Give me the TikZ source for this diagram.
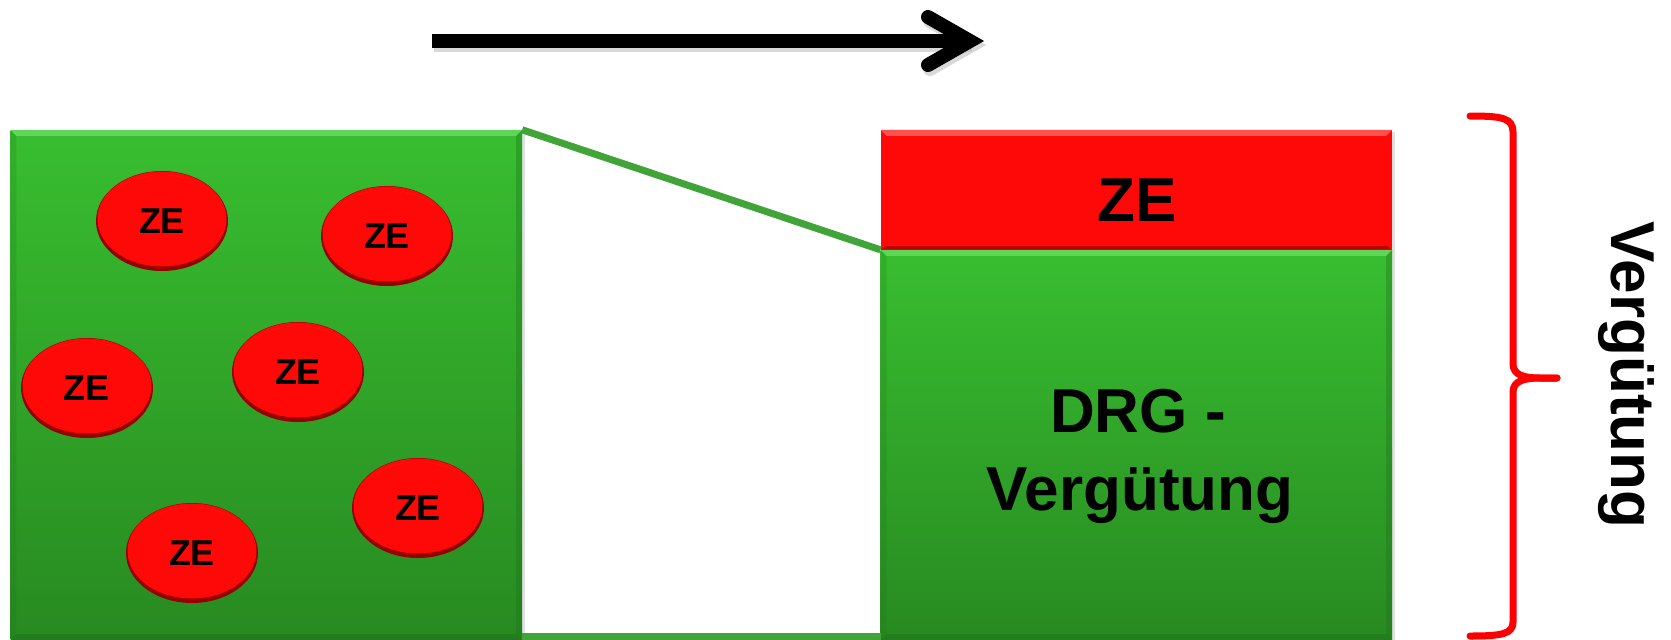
\documentclass[tikz,border=0pt]{standalone}
\usepackage{fontspec}
\setmainfont{Liberation Sans}
\usetikzlibrary{shapes.geometric}
\definecolor{gtop}{RGB}{56,190,48}
\definecolor{gbot}{RGB}{40,138,33}
\definecolor{glight}{RGB}{96,214,88}
\definecolor{gdark}{RGB}{30,112,26}
\definecolor{zered}{RGB}{255,8,8}
\definecolor{zelight}{RGB}{255,80,80}
\definecolor{zedark}{RGB}{190,0,0}
\definecolor{blobrim}{RGB}{150,0,0}
\definecolor{linegreen}{RGB}{64,164,56}
\definecolor{bracered}{RGB}{255,0,0}
\tikzset{
  box/.style={rectangle, inner sep=0pt, draw=none},
  greenbox/.style={box, top color=gtop, bottom color=gbot},
  redbar/.style={box, fill=zered},
  blob/.style={ellipse, minimum width=132pt, minimum height=100pt, inner sep=0pt,
    fill=blobrim, font=\bfseries\fontsize{36}{40}\selectfont,
    path picture={
      \fill[zered] ([yshift=2pt]path picture bounding box.center) ellipse [x radius=64.5pt, y radius=47.5pt];
      \fill[white, opacity=0.18] ([yshift=8pt]path picture bounding box.center) ellipse [x radius=58pt, y radius=38pt];
      \fill[zered] ([yshift=5pt]path picture bounding box.center) ellipse [x radius=60pt, y radius=41pt];
    }},
  bigtext/.style={font=\bfseries\fontsize{62}{78}\selectfont, inner sep=0pt},
  connline/.style={linegreen, line width=7pt},
  bracestyle/.style={bracered, line width=7pt, line cap=round, line join=round},
  arrowline/.style={black, line width=14pt},
}
\begin{document}
\begin{tikzpicture}[x=1pt, y=-1pt]
\useasboundingbox (0,0) rectangle (1671,640);

% arrow with soft shadow
\coordinate (a0) at (432,41);
\coordinate (av) at (970,41);
\coordinate (h1) at (928,17);
\coordinate (h2) at (928,65);
\begin{scope}[transform canvas={shift={(2pt,-4pt)}}]
  \draw[arrowline, black!25, opacity=0.6] (a0) -- (av);
  \draw[arrowline, black!25, opacity=0.6, line cap=round, miter limit=10] (h1) -- (av) -- (h2);
\end{scope}
\draw[arrowline] (a0) -- (av);
\draw[arrowline, line cap=round, miter limit=10] (h1) -- (av) -- (h2);

% left box
\fill[black!12] (13,132) rectangle (525,640);
\node[greenbox, minimum width=511.5pt, minimum height=510pt] (L) at (266.25,385) {};
\fill[glight] (L.north west) -- (L.north east) -- ([xshift=-6pt,yshift=-6pt]L.north east) -- ([xshift=6pt,yshift=-6pt]L.north west) -- cycle;
\fill[gdark, opacity=0.5] (L.south west) -- (L.south east) -- ([xshift=-6pt,yshift=6pt]L.south east) -- ([xshift=6pt,yshift=6pt]L.south west) -- cycle;
\fill[gdark, opacity=0.35] (L.north east) -- (L.south east) -- ([xshift=-6pt,yshift=6pt]L.south east) -- ([xshift=-6pt,yshift=-6pt]L.north east) -- cycle;
\fill[gdark, opacity=0.2] (L.north west) -- (L.south west) -- ([xshift=6pt,yshift=6pt]L.south west) -- ([xshift=6pt,yshift=-6pt]L.north west) -- cycle;

% ZE blobs
\node[blob] (z1) at (162,221) {ZE};
\node[blob] (z2) at (387,236) {ZE};
\node[blob] (z3) at (87,388) {ZE};
\node[blob] (z4) at (298,372) {ZE};
\node[blob] (z5) at (418,508) {ZE};
\node[blob] (z6) at (192,553) {ZE};

% right stack
\fill[black!12] (883,132) rectangle (1395,640);
\node[redbar, minimum width=511.3pt, minimum height=120pt] (R) at (1136.35,190) {};
\fill[zelight] (R.north west) -- (R.north east) -- ([xshift=-6pt,yshift=-6pt]R.north east) -- ([xshift=6pt,yshift=-6pt]R.north west) -- cycle;
\fill[zedark] (R.south west) -- (R.south east) -- ([xshift=-5pt,yshift=4pt]R.south east) -- ([xshift=5pt,yshift=4pt]R.south west) -- cycle;
\node[greenbox, minimum width=511.3pt, minimum height=390pt] (G) at (1136.35,445) {};
\fill[glight] (G.north west) -- (G.north east) -- ([xshift=-6pt,yshift=-6pt]G.north east) -- ([xshift=6pt,yshift=-6pt]G.north west) -- cycle;
\fill[gdark, opacity=0.5] (G.south west) -- (G.south east) -- ([xshift=-6pt,yshift=6pt]G.south east) -- ([xshift=6pt,yshift=6pt]G.south west) -- cycle;
\fill[gdark, opacity=0.35] (G.north east) -- (G.south east) -- ([xshift=-6pt,yshift=6pt]G.south east) -- ([xshift=-6pt,yshift=-6pt]G.north east) -- cycle;
\fill[gdark, opacity=0.2] (G.north west) -- (G.south west) -- ([xshift=6pt,yshift=6pt]G.south west) -- ([xshift=6pt,yshift=-6pt]G.north west) -- cycle;

\node[bigtext, anchor=base] (zet) at (1137,221) {ZE};
\node[bigtext, anchor=base] (drg1) at (1138,432) {DRG -};
\node[bigtext, anchor=base] (drg2) at (1140,510) {Vergütung};

% connecting lines
\draw[connline] (L.north east) -- (G.north west);
\draw[connline] ([yshift=4pt]L.south east) -- ([yshift=4pt]G.south west);

% brace
\coordinate (bt) at (1470,116);
\coordinate (bb) at (1470,636);
\coordinate (tip) at (1557,378);
\draw[bracestyle] (bt) .. controls (1502,116) and (1513,118) .. (1513,132) -- (1513,364) .. controls (1513,375) and (1524,378) .. (1540,378) -- (tip);
\draw[bracestyle] (tip) -- (1540,378) .. controls (1524,378) and (1513,381) .. (1513,392) -- (1513,622) .. controls (1513,634) and (1502,636) .. (bb);

\node[bigtext, rotate=-90, anchor=base] (verg) at (1611,375) {Vergütung};
\end{tikzpicture}
\end{document}
